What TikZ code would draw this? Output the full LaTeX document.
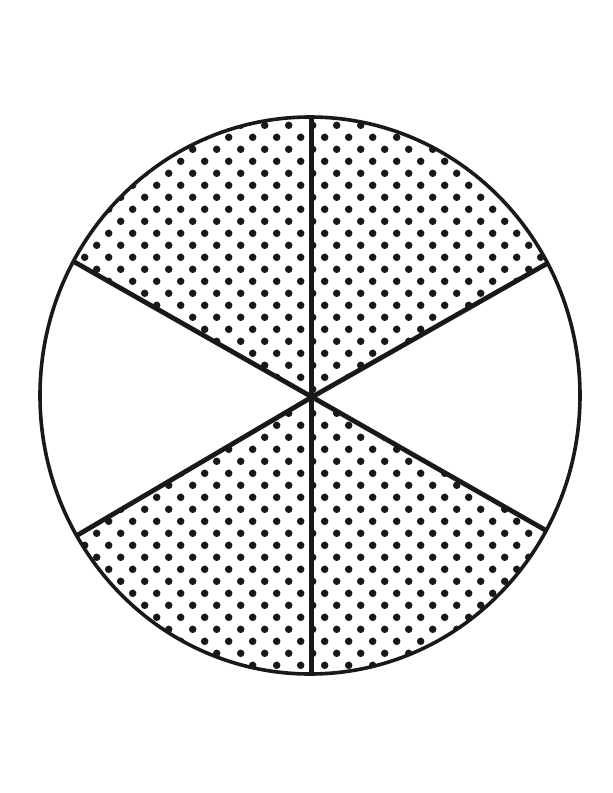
\documentclass[tikz,border=0pt]{standalone}
\begin{document}
\begin{tikzpicture}[x=1pt,y=-1pt,
  rim/.style={line width=3.6pt,draw=black!90},
  spoke/.style={line width=4.8pt,draw=black!90,line cap=butt},
  dot/.style={fill=black!90}]
\useasboundingbox (0,0) rectangle (613,793);
\fill[white] (0,0) rectangle (613,793);
\coordinate (C) at (312,397);
\coordinate (TL) at (-170,123);
\coordinate (TR) at (784,129);
\coordinate (BL) at (-160,675);
\coordinate (BR) at (782,665);
\coordinate (T) at (311.5,117);
\coordinate (B) at (311.5,674);
% dotted sectors
\begin{scope}
  \clip (310,395.5) ellipse [x radius=270, y radius=278.5];
  \clip (C) -- (TL) -- (-170,0) -- (311.5,0) -- cycle
        (C) -- (311.5,0) -- (784,0) -- (TR) -- cycle
        (C) -- (BL) -- (-160,800) -- (311.5,800) -- cycle
        (C) -- (311.5,800) -- (782,800) -- (BR) -- cycle;
  \foreach \k in {0,...,47}{
    \pgfmathsetmacro\yy{113.3+12*\k}
    \pgfmathsetmacro\xo{36.7+12*mod(\k,2)}
    \foreach \i in {0,...,23}{
      \fill[dot] ({\xo+24*\i},\yy) circle (3.75);
    }
  }
\end{scope}
% spokes
\begin{scope}
  \clip (310,395.5) ellipse [x radius=270, y radius=278.5];
  \draw[spoke] (C) -- (TL);
  \draw[spoke] (C) -- (TR);
  \draw[spoke] (C) -- (BL);
  \draw[spoke] (C) -- (BR);
  \draw[spoke] (T) -- (B);
\end{scope}
\draw[rim] (310,395.5) ellipse [x radius=270, y radius=278.5];
\end{tikzpicture}
\end{document}
